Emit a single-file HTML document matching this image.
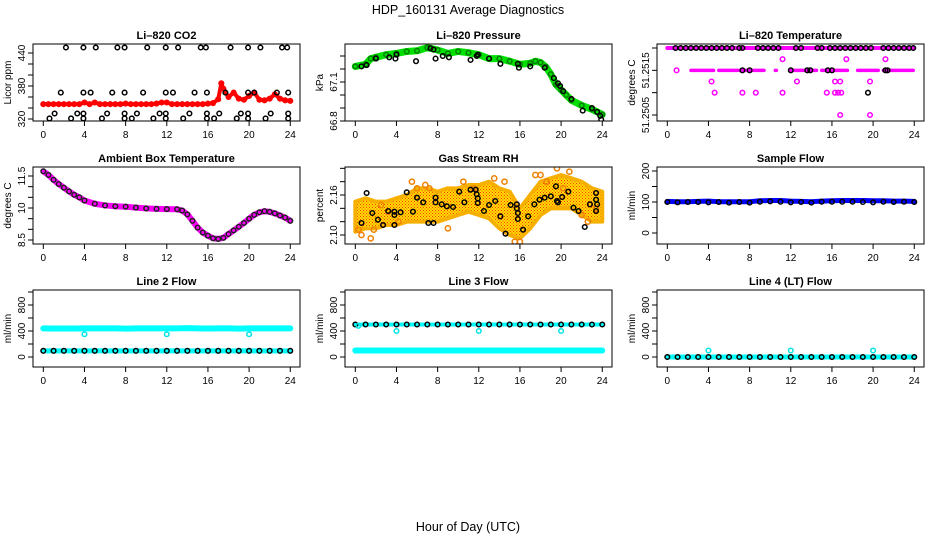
<!DOCTYPE html>
<html><head><meta charset="utf-8"><style>
html,body{margin:0;padding:0;background:#fff;}
svg{display:block;font-family:"Liberation Sans",sans-serif;}
</style></head><body>
<svg id="chart" width="936" height="540" viewBox="0 0 936 540" xmlns="http://www.w3.org/2000/svg">
<rect x="0" y="0" width="936" height="540" fill="#fff"/>
<text x="468" y="14" text-anchor="middle" font-size="12.5">HDP_160131  Average Diagnostics</text>
<text x="468" y="531" text-anchor="middle" font-size="12.5">Hour of Day (UTC)</text>
</svg>
<script>
// ---------- data ----------
const xTicks = [0,4,8,12,16,20,24];
// CO2
const co2RedHrs = [0,0.5,1,1.5,2,2.5,3,3.5,4,4.5,5,5.5,6,6.5,7,7.5,8,8.5,9,9.5,10,10.5,11,11.5,12,12.5,13,13.5,14,14.5,15,15.5,16,16.5,17,17.3,17.5,18,18.5,19,19.5,20,20.5,21,21.5,22,22.5,23,23.5,24];
const co2RedVals = [347,347,347,347,347,347,347,347,350,347,350,347,347,347,347,347,348,347,347,347,347,347,348,350,350,347,347,347,347,347,347,347,348,349,356,385,375,360,368,357,355,362,368,355,354,357,365,357,354,353];
const co2BlkHrs = [2.2,3.9,5.1,7.2,7.9,10.1,11.9,13.1,15.3,15.8,18.2,19.9,21.1,23.2,23.7, 1.7,3.9,4.6,6.7,7.9,9.7,11.9,12.6,14.7,15.9,17.7,19.9,20.5,22.7,23.8, 1.1,3.3,3.9,6.2,7.9,9.1,11.3,11.9,14.2,15.9,17.1,19.2,19.9,22.1,23.8, 0.6,2.7,3.9,5.7,7.9,8.6,10.7,11.9,13.6,15.9,16.6,18.8,19.9,21.6,23.8];
const co2BlkVals = [450,450,450,450,450,450,450,450,450,450,450,450,450,450,450, 368,368,368,368,368,368,368,368,368,368,368,368,368,368,368, 330,330,330,330,330,330,330,330,330,330,330,330,330,330,330, 321,321,321,321,321,321,321,321,321,321,321,321,321,321,321];
// Pressure
const presHrs = [0,1,1.5,2,3,4,5,6,7,8,9,10,11,12,13,14,15,16,17,17.5,18,18.5,19,19.5,20,20.5,21,22,23,23.5,24];
const presVals = [67.22,67.236,67.28,67.29,67.31,67.32,67.335,67.34,67.364,67.346,67.32,67.335,67.325,67.31,67.28,67.28,67.26,67.236,67.244,67.26,67.25,67.218,67.16,67.08,67.04,67.0,66.96,66.92,66.89,66.87,66.85];
const presBlkHrs = [0.6,1.1,2.0,3.3,3.9,4.0,5.9,7.3,7.6,7.8,8.5,9.1,11.2,11.8,11.9,13.0,14.1,15.8,15.9,17.0,18.4,19.3,19.7,19.9,20.2,21.0,22.1,23.0,23.5,23.8,23.9];
const presBlkVals = [67.22,67.23,67.28,67.29,67.28,67.31,67.26,67.36,67.35,67.28,67.3,67.29,67.27,67.3,67.31,67.28,67.24,67.24,67.21,67.22,67.21,67.13,67.09,67.07,67.03,66.97,66.88,66.9,66.87,66.84,66.81];
// Li-820 temperature
const tempHrs = [0.9,11.2,17.4,21.2,4.3,12.6,16.3,16.8,19.7,4.6,7.3,8.6,11.2,15.5,16.3,16.6,16.9,16.8,19.7];
const tempVals = [51.2515,51.25175,51.25175,51.25175,51.25125,51.25125,51.25125,51.25125,51.25125,51.251,51.251,51.251,51.251,51.251,51.251,51.251,51.251,51.2505,51.2505];
const tempTopBlk = [0.8,1.3,1.8,2.3,2.8,3.3,3.8,4.3,4.8,5.3,5.8,6.3,7.0,7.3,8.8,9.3,9.8,10.3,10.8,12.5,13.0,14.6,15.0,15.8,16.3,16.8,17.3,17.8,18.3,18.8,19.3,19.8,21.0,21.5,22.0,22.5,23.0,23.5,23.9];
const tempMidBlk = [7.3,8.0,12.0,13.6,13.9,15.6,16.0,21.2,21.4];
const tempMidSegStart = [2.3,5.0,7.0,10.5,12.0,15.0,18.5,21.0];
const tempMidSegEnd = [4.5,6.8,9.4,10.6,14.5,17.5,20.5,23.9];
const tempBlkSingle = [19.5];
const tempBlkSingleVal = [51.251];
// Ambient box temperature
const ambHrs = [0,0.5,1,1.5,2,2.5,3,3.5,4,5,6,7,8,9,10,11,12,13,13.5,14,14.5,15,15.5,16,16.5,17,17.5,18,18.5,19,19.5,20,20.5,21,21.5,22,22.5,23,23.5,24];
const ambVals = [11.72,11.55,11.32,11.12,10.95,10.78,10.62,10.5,10.35,10.2,10.12,10.08,10.06,10.02,9.98,9.96,9.95,9.94,9.88,9.7,9.4,9.08,8.85,8.7,8.58,8.55,8.6,8.78,8.95,9.12,9.3,9.5,9.68,9.8,9.85,9.82,9.75,9.65,9.55,9.4];
// Gas stream RH
const rhEnvHrs = [0,1,2,3,4,5,6,7,8,9,10,11,12,13,14,15,16,17,18,19,20,21,22,23,24];
const rhUpper = [2.15,2.155,2.15,2.15,2.155,2.16,2.17,2.17,2.165,2.17,2.17,2.175,2.175,2.18,2.17,2.165,2.14,2.16,2.18,2.185,2.19,2.185,2.18,2.17,2.165];
const rhLower = [2.105,2.11,2.11,2.115,2.115,2.12,2.12,2.12,2.12,2.125,2.13,2.135,2.13,2.125,2.11,2.1,2.095,2.11,2.13,2.14,2.14,2.14,2.13,2.12,2.12];
const rhOrHrs = [0.3,0.6,1.5,1.8,2.5,3.2,4.2,5.5,6.0,6.8,7.2,9.0,10.5,11.5,13.5,14.5,15.5,16.0,17.5,18.0,18.6,19.6,20.2,20.8,22.0,22.6,23.4];
const rhOrVals = [2.108,2.1,2.095,2.108,2.145,2.135,2.12,2.18,2.17,2.175,2.17,2.11,2.18,2.17,2.185,2.18,2.09,2.09,2.19,2.19,2.18,2.2,2.17,2.195,2.13,2.12,2.14];
const rhBlkHrs = [0.6,1.1,1.65,2.2,2.7,3.2,3.8,3.8,3.8,4.4,5.0,5.6,6.0,6.6,7.1,7.6,7.8,7.8,8.4,8.9,9.5,10.1,10.6,11.2,11.7,11.8,11.9,11.9,12.5,13.0,13.6,14.1,14.6,15.1,15.7,15.7,15.8,15.8,16.3,16.8,17.4,17.9,18.4,19.0,19.5,19.6,19.7,20.1,20.7,21.2,21.7,22.3,22.8,23.4,23.4,23.4,23.5];
const rhBlkVals = [2.118,2.163,2.133,2.123,2.115,2.136,2.135,2.13,2.115,2.134,2.164,2.135,2.156,2.149,2.118,2.118,2.156,2.149,2.146,2.143,2.142,2.165,2.149,2.168,2.168,2.161,2.155,2.148,2.136,2.145,2.151,2.128,2.102,2.145,2.146,2.14,2.133,2.124,2.108,2.128,2.146,2.153,2.156,2.158,2.173,2.151,2.149,2.157,2.165,2.141,2.136,2.112,2.146,2.163,2.153,2.136,2.146];
// Sample flow
const sfHrs = [0,1,2,3,4,5,6,7,8,9,10,11,12,13,14,15,16,17,18,19,20,21,22,23,24];
const sfBlue = [102,101,101,102,103,101,101,101,101,104,105,105,103,102,101,103,104,105,105,105,104,104,103,103,102];
const sfBlk = [100,99,100,100,99,100,98,100,98,101,102,101,99,100,98,101,101,101,101,100,99,101,100,101,100];
// Row 3 flows
const flowHrs = [0,1,2,3,4,5,6,7,8,9,10,11,12,13,14,15,16,17,18,19,20,21,22,23,24];
const l2Cyan = [440,438,438,438,440,440,440,440,436,440,440,440,440,440,445,440,438,440,440,436,440,440,440,440,440];
const l2Blk = [95,95,95,95,95,95,95,95,95,95,95,95,95,95,95,95,95,95,95,95,95,95,95,95,95];
const l2DipHrs = [4,12,20];
const l2DipVals = [350,350,350];
const l3Cyan = [100,100,100,100,100,100,100,100,100,100,100,100,100,100,100,100,100,100,100,100,100,100,100,100,100];
const l3Blk = [500,500,500,500,500,500,500,500,500,500,500,500,500,500,500,500,500,500,500,500,500,500,500,500,500];
const l3DipHrs = [0.3,4,12,20];
const l3DipVals = [480,400,400,400];
const l4Cyan = [0,0,0,0,0,0,0,0,0,0,0,0,0,0,0,0,0,0,0,0,0,0,0,0,0];
const l4Blk = [0,0,0,0,0,0,0,0,0,0,0,0,0,0,0,0,0,0,0,0,0,0,0,0,0];
const l4DipHrs = [4,12,20];
const l4DipVals = [100,100,100];

// ---------- drawing ----------
const svg = document.getElementById('chart');
const NS = 'http://www.w3.org/2000/svg';
function mk(tag, attrs, parent){
  const e = document.createElementNS(NS, tag);
  for (const k in attrs) e.setAttribute(k, attrs[k]);
  (parent||svg).appendChild(e);
  return e;
}
const colLeft = [33,345,657];
const rowTop = [44,167,290];
const boxW = 267, boxH = 77;

function makePanel(c, r, title, ylab, y1, p1, y2, p2, yTicks, yLabels, name){
  const g = mk('g', {});
  
  
  const L = colLeft[c], T = rowTop[r];
  const zero = L + 10.3;
  const xs = h => zero + h * 10.29;
  const ys = v => p1 + (v - y1) * (p2 - p1) / (y2 - y1);
  const t = mk('text', {x: L + boxW/2, y: T - 5, 'text-anchor':'middle', 'font-size':'11', 'font-weight':'bold'}, g);
  t.textContent = title;
  
  
  const yl = mk('text', {x: 0, y: 0, 'text-anchor':'middle', 'font-size':'10', transform:`translate(${L-22},${T+boxH/2}) rotate(-90)`}, g);
  yl.textContent = ylab;
  
  
  const plot = mk('g', {}, g);
  
  
  const clip = mk('clipPath', {id:'clip'+name}, g);
  mk('rect', {x:L, y:T, width:boxW, height:boxH}, clip);
  plot.setAttribute('clip-path', `url(#clip${name})`);
  const fr = mk('rect', {x:L, y:T, width:boxW, height:boxH, fill:'none', stroke:'#000', 'stroke-width':'1'}, g);
  
  
  xTicks.forEach(v => {
    const x = xs(v);
    mk('line', {x1:x, x2:x, y1:T+boxH, y2:T+boxH+5, stroke:'#000'}, g);
    const tl = mk('text', {x:x, y:T+boxH+17, 'text-anchor':'middle', 'font-size':'10'}, g);
    tl.textContent = v;
    
    
  });
  yTicks.forEach(v => {
    const y = ys(v);
    mk('line', {x1:L-5, x2:L, y1:y, y2:y, stroke:'#000'}, g);
  });
  yLabels.forEach(v => {
    const y = ys(v);
    const tl = mk('text', {x:0, y:0, 'text-anchor':'middle', 'font-size':'10', transform:`translate(${L-8},${y}) rotate(-90)`}, g);
    tl.textContent = v;
    
    
  });
  return {plot, xs, ys, name};
}
function band(P, hrs, vals, color, w, label){
  const pts = hrs.map((h,i)=>P.xs(h)+','+P.ys(vals[i])).join(' ');
  const pl = mk('polyline', {points:pts, fill:'none', stroke:color, 'stroke-width':w, 'stroke-linejoin':'round', 'stroke-linecap':'round'}, P.plot);
  
  
}
function pts(P, hrs, vals, color, label, r){
  hrs.forEach((h,i)=>{
    const c = mk('circle', {cx:P.xs(h), cy:P.ys(vals[i]), r:r||2.3, fill:'none', stroke:color, 'stroke-width':'1.5'}, P.plot);
    
    
  });
}
function fillBetween(P, hrs, up, lo, fill, label){
  const a = hrs.map((h,i)=>P.xs(h)+','+P.ys(up[i]));
  const b = hrs.slice().reverse().map((h,i)=>P.xs(h)+','+P.ys(lo[hrs.length-1-i]));
  const pg = mk('polygon', {points:a.concat(b).join(' '), fill:fill, stroke:'#f8b000', 'stroke-width':'4', 'stroke-linejoin':'round'}, P.plot);
  
  
}

const defs = mk('defs', {});
const pat = mk('pattern', {id:'rhpat', width:'3', height:'3', patternUnits:'userSpaceOnUse'}, defs);
mk('rect', {x:0,y:0,width:3,height:3,fill:'#ffe000'}, pat);
mk('rect', {x:0,y:0,width:1,height:1,fill:'#ff3000'}, pat);
mk('rect', {x:1.5,y:1.5,width:1,height:1,fill:'#ff3000'}, pat);

// Row 1
let P = makePanel(0,0,'Li\u2013820 CO2','Licor ppm',440,53,320,119,[320,340,360,380,400,420,440],[320,380,440],'co2');
band(P, co2RedHrs, co2RedVals, '#ff0000', 4, 'red-band');
pts(P, co2RedHrs, co2RedVals, '#ff0000', 'red-point');
pts(P, co2BlkHrs, co2BlkVals, '#000', 'black-point');

P = makePanel(1,0,'Li\u2013820 Pressure','kPa',66.8,121,67.1,82,[66.8,66.9,67.0,67.1,67.2,67.3],[66.8,67.1],'pressure');
band(P, presHrs, presVals, '#00e000', 7, 'green-band');
pts(P, presHrs, presVals, '#008000', 'green-point');
pts(P, presBlkHrs, presBlkVals, '#000', 'black-point');

P = makePanel(2,0,'Li\u2013820 Temperature','degrees C',51.2505,115,51.252,48,[51.2505,51.251,51.2515,51.252],[51.2505,51.2515],'li820-temp');
band(P, [0,24], [51.252,51.252], '#ff00ff', 4, 'top-band');
tempMidSegStart.forEach((s,i)=>band(P, [s, tempMidSegEnd[i]], [51.2515,51.2515], '#ff00ff', 3.5, 'mid-band'));
pts(P, tempHrs, tempVals, '#ff00ff', 'magenta-point');
pts(P, tempTopBlk, tempTopBlk.map(()=>51.252), '#000', 'black-point');
pts(P, tempMidBlk, tempMidBlk.map(()=>51.2515), '#000', 'black-point');
pts(P, tempBlkSingle, tempBlkSingleVal, '#000', 'black-point');

// Row 2
P = makePanel(0,1,'Ambient Box Temperature','degrees C',8.5,240,10,208,[8.5,9,9.5,10,10.5,11,11.5],['8.5','10.0','11.5'].map(Number),'ambient');
band(P, ambHrs, ambVals, '#ff00ff', 6, 'magenta-band');
pts(P, ambHrs, ambVals, '#222', 'black-point');

P = makePanel(1,1,'Gas Stream RH','percent',2.10,235,2.16,195,[2.10,2.12,2.14,2.16,2.18,2.20],['2.10','2.16'],'rh');
fillBetween(P, rhEnvHrs, rhUpper, rhLower, 'url(#rhpat)', 'orange-cloud');
pts(P, rhOrHrs, rhOrVals, '#f08000', 'orange-point', 2.6);
pts(P, rhBlkHrs, rhBlkVals, '#000', 'black-point');

P = makePanel(2,1,'Sample Flow','ml/min',0,233,200,171,[0,50,100,150,200],[0,100,200],'sample-flow');
band(P, sfHrs, sfBlue, '#0000ff', 5, 'blue-band');
pts(P, sfHrs, sfBlk, '#000', 'black-point');

// Row 3
P = makePanel(0,2,'Line 2 Flow','ml/min',0,357,400,331,[0,200,400,600,800,1000],[0,400,800],'line2');
band(P, flowHrs, l2Cyan, '#00ffff', 6, 'cyan-band-high');
band(P, flowHrs, l2Blk, '#00ffff', 5, 'cyan-band-low');
pts(P, flowHrs, l2Blk, '#000', 'black-point');
pts(P, l2DipHrs, l2DipVals, '#00e5e5', 'cyan-point');

P = makePanel(1,2,'Line 3 Flow','ml/min',0,357,400,331,[0,200,400,600,800,1000],[0,400,800],'line3');
band(P, flowHrs, l3Cyan, '#00ffff', 6, 'cyan-band');
band(P, flowHrs, l3Blk, '#00ffff', 4, 'cyan-band-high');
pts(P, flowHrs, l3Blk, '#000', 'black-point');
pts(P, l3DipHrs, l3DipVals, '#00e5e5', 'cyan-point');

P = makePanel(2,2,'Line 4 (LT) Flow','ml/min',0,357,400,331,[0,200,400,600,800,1000],[0,400,800],'line4');
band(P, flowHrs, l4Cyan, '#00ffff', 5, 'cyan-band');
pts(P, flowHrs, l4Blk, '#000', 'black-point');
pts(P, l4DipHrs, l4DipVals, '#00e5e5', 'cyan-point');
</script>
</body></html>
